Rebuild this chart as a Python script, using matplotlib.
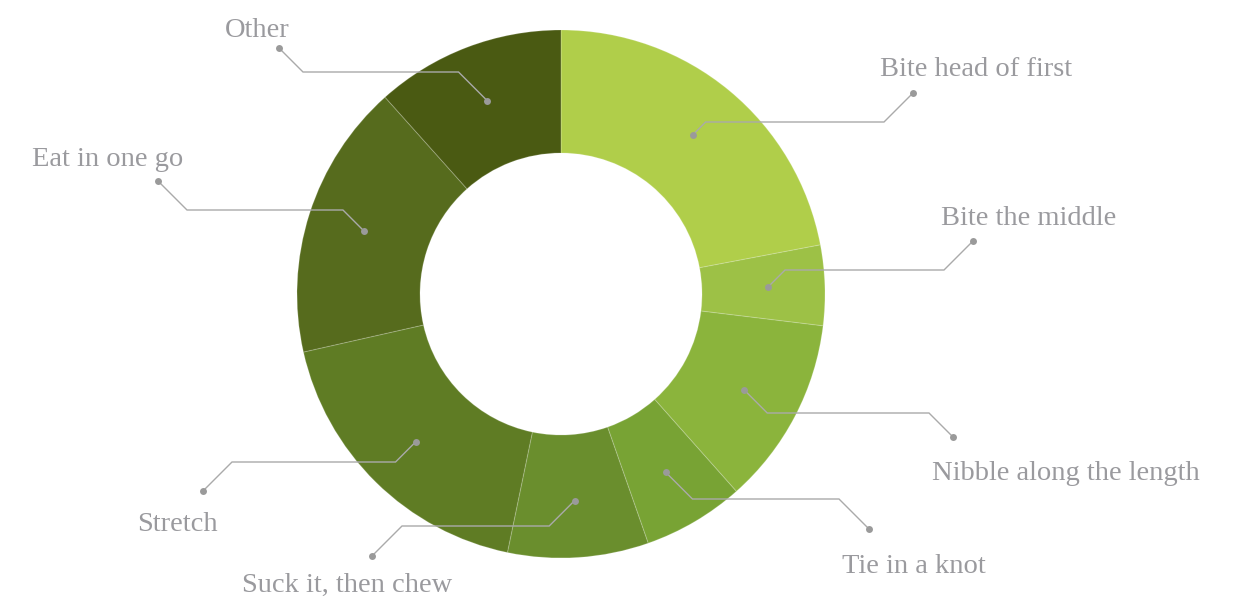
import numpy as np
import matplotlib
matplotlib.use("Agg")
import matplotlib.pyplot as plt

# slices, clockwise from 12 o'clock (share in %)
labels = ["Bite head of first", "Bite the middle", "Nibble along the length",
          "Tie in a knot", "Suck it, then chew", "Stretch", "Eat in one go", "Other"]
shares = [22.0, 4.9, 11.5, 6.2, 8.6, 18.2, 16.9, 11.6]
colors = ["#b0ce4a", "#9dc146", "#8bb43c", "#78a334",
          "#6a8e2d", "#5f7c24", "#566b1d", "#4a5a12"]

# label layout in pixels (image coords): text left/baseline, outer dot, elbow row
text_pos = [(880, 76), (941, 225), (932, 480), (842, 573),
            (242, 592), (137, 531), (32, 166), (225, 37)]
outer_dot = [(913, 93), (973, 241), (953, 437), (869, 529),
             (372, 556), (203, 491), (158, 181), (279, 48)]
elbow_y = [122, 270, 413, 499, 526, 462, 210, 72]

W, H = 1245, 599
cx, cy = 561, 294
r_out, ring = 264, 123
r_dot = 207

fig = plt.figure(figsize=(W / 100, H / 100), dpi=100)
ax = fig.add_axes([0, 0, 1, 1])

# y axis is flipped below, so start at -90 and go "counterclock" = clockwise on screen
wedges, _ = ax.pie(shares, colors=colors, startangle=-90, counterclock=True,
                   radius=r_out, center=(cx, cy),
                   wedgeprops=dict(width=ring, edgecolor=(1, 1, 1, 0.18), linewidth=0.8))

ax.set_xlim(0, W)
ax.set_ylim(H, 0)
ax.set_aspect("equal")
ax.axis("off")

line_c = "#aaaaaa"
dot_c = "#9a9a9a"
for w, lab, (tx, ty), (xo, yo), ye in zip(wedges, labels, text_pos, outer_dot, elbow_y):
    mid = np.deg2rad((w.theta1 + w.theta2) / 2)
    x0 = cx + r_dot * np.cos(mid)
    y0 = cy + r_dot * np.sin(mid)
    s = 1 if xo > x0 else -1
    x1 = x0 + s * abs(ye - y0)
    x2 = xo - s * abs(yo - ye)
    ax.plot([x0, x1, x2, xo], [y0, ye, ye, yo], color=line_c, lw=1.0,
            solid_joinstyle="miter", zorder=3)
    ax.plot([x0, xo], [y0, yo], "o", color=dot_c, ms=5, mec="none", zorder=4)
    ax.text(tx, ty, lab, ha="left", va="baseline", fontsize=20.5,
            family="Liberation Serif", color="#9a9a9e")

fig.savefig("out.png", dpi=100)
